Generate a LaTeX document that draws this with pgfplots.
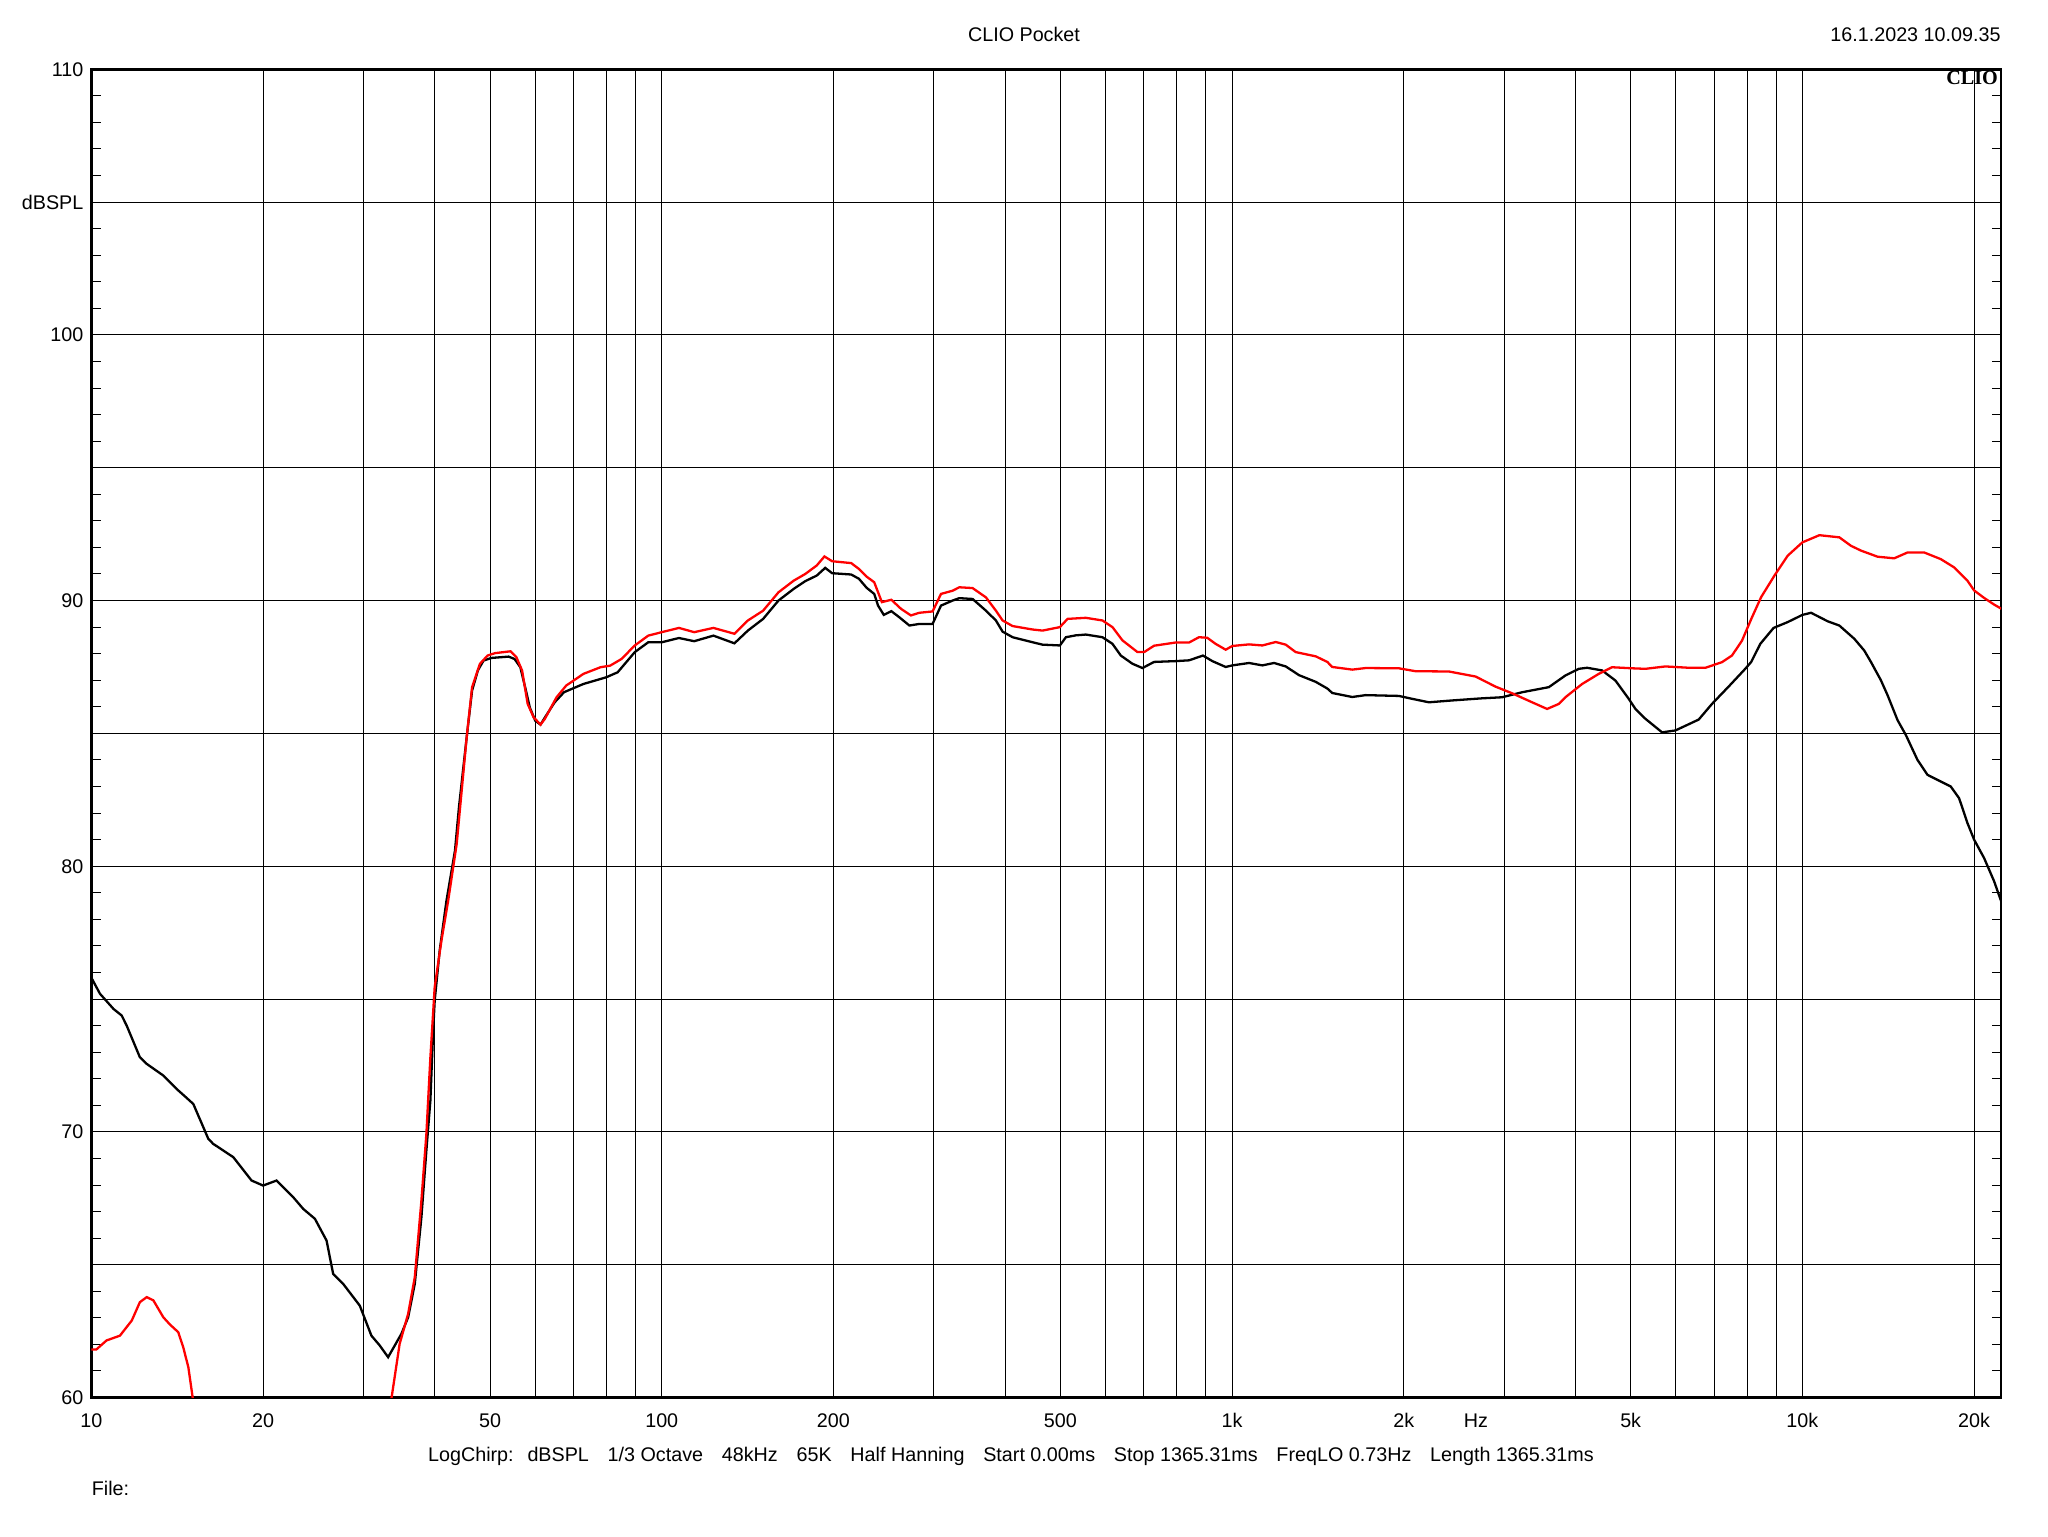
\documentclass[border=0pt]{standalone}
\usepackage{pgfplots}
\pgfplotsset{compat=1.18}
\usepackage{pgfplotstable}
\usepackage{fontspec}
\setmainfont{Liberation Sans}
\newfontfamily\clioserif{Liberation Serif}

\pgfplotstableread{
f db
10 75.8
10.35 75.2
10.93 74.63
11.30 74.38
11.53 74.0
12.16 72.81
12.5 72.56
13.37 72.12
14.2 71.56
14.6 71.33
15.09 71.05
16.03 69.74
16.35 69.55
17.73 69.05
19.09 68.17
20 67.98
21.12 68.17
22.59 67.54
23.52 67.10
24.65 66.73
25.84 65.91
26.54 64.65
27.63 64.28
29.55 63.46
30.97 62.33
32.03 61.96
33.13 61.52
34.96 62.40
35.92 63.02
36.90 64.28
37.90 66.79
38.67 69.30
39.30 71.18
39.72 73.69
39.99 74.94
40.8 76.83
41.93 78.7
43.4 80.59
44.1 82.22
45.5 84.86
46.5 86.61
47.6 87.37
48.7 87.74
50.3 87.84
53.9 87.89
55.2 87.80
56.5 87.49
57.8 86.61
58.7 85.98
60.0 85.48
61.3 85.33
62.4 85.6
64.9 86.17
67.4 86.55
72.9 86.86
79.9 87.11
83.7 87.30
89.7 88.06
94.7 88.43
100 88.43
107.2 88.59
114 88.47
123.2 88.68
134.1 88.39
141.6 88.87
150.6 89.31
160.2 90.0
170.4 90.44
178.5 90.73
187 90.94
193.5 91.23
199 91.03
214.9 90.98
221.7 90.82
228.7 90.48
235.8 90.25
239.5 89.81
245.1 89.46
252.7 89.6
261 89.37
271.8 89.06
282.9 89.12
298.5 89.12
308.8 89.81
323.6 90.0
332.5 90.09
350.8 90.06
370.2 89.62
385.5 89.25
396 88.83
412.3 88.62
446.9 88.43
465.3 88.34
499 88.31
511.3 88.62
532.1 88.69
554.1 88.72
592.7 88.62
617.1 88.37
638.2 87.93
669 87.62
696.5 87.46
730 87.69
796.2 87.72
840.7 87.75
889.2 87.93
923.6 87.72
974.6 87.5
1001 87.56
1071 87.65
1130 87.56
1185 87.65
1242 87.52
1311 87.19
1402 86.94
1469 86.69
1499 86.52
1625 86.37
1715 86.44
1961 86.41
2070 86.3
2214 86.17
2432 86.24
2745 86.32
2976 86.36
3228 86.55
3593 86.74
3842 87.18
4055 87.43
4194 87.47
4455 87.37
4701 86.99
4961 86.3
5097 85.92
5306 85.55
5675 85.04
5989 85.11
6580 85.52
6943 86.11
7425 86.76
7941 87.43
8134 87.69
8438 88.37
8903 88.97
9426 89.19
10000 89.46
10356 89.54
11075 89.22
11609 89.06
12334 88.56
12837 88.12
13189 87.69
13731 87.0
14105 86.44
14685 85.5
15186 84.94
15918 84.0
16573 83.44
17256 83.25
18207 83.0
18830 82.56
19474 81.63
20005 81.0
20826 80.31
21682 79.44
22340 78.65
}\blackdata

\pgfplotstableread{
f db
10 61.81
10.2 61.81
10.63 62.15
11.22 62.33
11.77 62.90
12.16 63.59
12.5 63.78
12.84 63.66
13.37 63.02
13.73 62.75
14.2 62.46
14.49 61.89
14.79 61.14
15.05 60.0
15.15 59.0
}\redlow

\pgfplotstableread{
f db
33.3 59.0
33.6 60.0
34.71 62.02
35.92 63.15
36.90 64.53
37.9 67.42
38.67 69.92
39.3 72.81
39.99 75.45
41.09 77.2
42.22 78.7
43.7 80.84
45.5 84.86
46.5 86.74
48.0 87.62
49.5 87.93
51.0 88.02
54.3 88.09
55.6 87.87
56.9 87.37
58.2 86.11
59.6 85.61
61.3 85.33
62.4 85.55
65.4 86.36
68.0 86.8
72.9 87.24
78.1 87.49
81.2 87.55
85.0 87.80
89.7 88.31
94.7 88.68
100 88.81
107.2 88.97
114 88.81
123.2 88.97
134.1 88.75
141.6 89.25
150.6 89.62
160.2 90.31
170.4 90.75
178.5 91.0
187 91.32
192.9 91.66
199 91.48
214.9 91.41
221.7 91.19
228.7 90.90
235.8 90.69
243.2 89.94
252.7 90.03
262.7 89.69
273.5 89.44
282.9 89.54
298.5 89.59
308.8 90.25
323.6 90.37
332.5 90.5
350.8 90.47
370.2 90.12
385.5 89.62
396 89.25
412.3 89.04
446.9 88.91
465.3 88.87
499 89.0
514.7 89.31
554.1 89.35
592.7 89.25
617.1 89.0
642.5 88.5
682.7 88.06
701.3 88.06
730 88.3
796.2 88.42
840.7 88.42
874.9 88.62
904.6 88.6
935.8 88.37
974.6 88.15
1001 88.29
1071 88.35
1130 88.31
1193 88.44
1242 88.34
1293 88.06
1402 87.9
1469 87.69
1499 87.5
1625 87.4
1715 87.46
1961 87.45
2098 87.34
2400 87.33
2673 87.14
2897 86.76
3098 86.51
3359 86.17
3568 85.92
3741 86.11
3842 86.36
4110 86.86
4395 87.24
4638 87.49
5028 87.45
5306 87.43
5752 87.52
6321 87.47
6761 87.47
7228 87.68
7527 87.93
7838 88.49
8160 89.37
8467 90.13
8934 90.94
9426 91.69
10000 92.19
10711 92.46
11609 92.38
12170 92.06
12670 91.88
13550 91.65
14490 91.59
15290 91.81
16351 91.81
17486 91.56
18451 91.25
19474 90.75
20005 90.38
20826 90.1
21682 89.85
22340 89.69
}\redhigh

\begin{document}
\begin{tikzpicture}
\useasboundingbox (-14mm,-21.2mm) rectangle (299.6mm,214mm);
\begin{axis}[
  at={(0,0)}, anchor=south west,
  scale only axis, width=292.4mm, height=203.4mm,
  xmode=log, xmin=10, xmax=22300, ymin=60, ymax=110,
  xtick={10,20,30,40,50,60,70,80,90,100,200,300,400,500,600,700,800,900,1000,2000,3000,4000,5000,6000,7000,8000,9000,10000,20000},
  xticklabels={10,20,,,50,,,,,100,200,,,500,,,,,1k,2k,,,5k,,,,,10k,20k},
  ytick={60,65,70,75,80,85,90,95,100,105,110},
  yticklabels={60,,70,,80,,90,,100,dBSPL,110},
  xminorticks=false,
  minor y tick num=4,
  ytick pos=both, yticklabel pos=left, xtick pos=bottom,
  grid=major,
  major grid style={black, line width=0.44pt},
  axis line style={black, line width=1.2pt},
  tick align=inside,
  major tick length=0pt,
  minor tick length=1.45mm,
  minor tick style={black, line width=0.44pt},
  tick label style={font=\fontsize{8.6}{10}\selectfont, black},
  xticklabel style={anchor=base, yshift=-4.6mm},
]
\addplot[black, line width=1.0pt] table[x=f, y=db] {\blackdata};
\addplot[red, line width=1.0pt] table[x=f, y=db] {\redlow};
\addplot[red, line width=1.0pt] table[x=f, y=db] {\redhigh};
\end{axis}
\begin{scope}[every node/.style={font=\fontsize{8.6}{10}\selectfont, inner sep=0pt}]
\node[anchor=base] at (142.8mm,207.6mm) {CLIO Pocket};
\node[anchor=base east] at (292.4mm,207.6mm) {16.1.2023 10.09.35};
\node[anchor=base east, font=\clioserif\bfseries\fontsize{8.8}{10}\selectfont] at (292mm,201mm) {CLIO};
\node[anchor=base] at (212mm,-4.6mm) {Hz};
\node[anchor=base] at (140.8mm,-9.8mm) {LogChirp:\hspace{0.7em}dBSPL\hspace{0.95em}1/3 Octave\hspace{0.95em}48kHz\hspace{0.95em}65K\hspace{0.95em}Half Hanning\hspace{0.95em}Start 0.00ms\hspace{0.95em}Stop 1365.31ms\hspace{0.95em}FreqLO 0.73Hz\hspace{0.95em}Length 1365.31ms};
\node[anchor=base west] at (0mm,-15mm) {File:};
\end{scope}
\end{tikzpicture}
\end{document}
